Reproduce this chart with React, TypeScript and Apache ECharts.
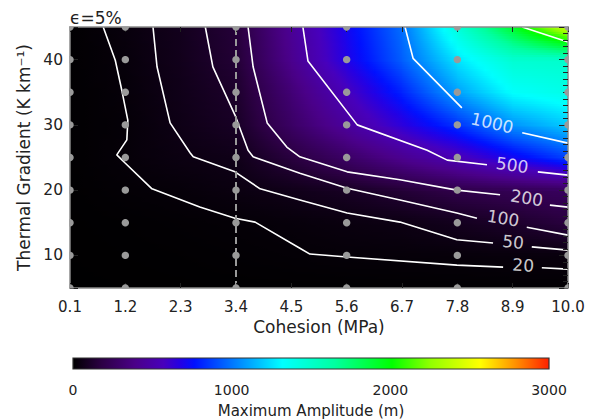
import React, { useEffect, useRef } from "react";
import * as echarts from "echarts";

// grid nodes of the amplitude field
const cohesionNodes = [0.1, 1.2, 2.3, 3.4, 4.5, 5.6, 6.7, 7.8, 8.9, 10.0];
const gradientNodes = [5, 10, 15, 20, 25, 30, 35, 40, 45];
// maximum amplitude (m), one row per gradient node (bottom to top), one column per cohesion node
const amplitude = [
  [1, 2, 3, 4, 4, 4, 5, 6, 7, 8],
  [2, 4, 6, 10, 15, 21, 23, 26, 30, 35],
  [3, 6, 11, 17, 27, 39, 50, 78, 115, 165],
  [4, 14, 24, 42, 65, 95, 145, 200, 230, 260],
  [5, 22, 45, 62, 165, 280, 416, 547, 714, 880],
  [5, 19, 57, 98, 277, 464, 653, 843, 1070, 1200],
  [5, 23, 64, 115, 331, 564, 806, 1100, 1330, 1400],
  [5, 27, 72, 140, 410, 684, 947, 1260, 1480, 1500],
  [5, 33, 76, 150, 437, 714, 985, 1446, 1918, 2450],
];

// sample points (gray dots)
const sampleCohesion = [0.1, 1.2, 3.4, 5.6, 7.8, 10.0];
const sampleGradient = [5, 10, 15, 20, 25, 30, 35, 40, 45];
const referenceCohesion = 3.4;

// contour lines, each a list of segments (split where the label sits)
const contour20 = [
  [[0.76, 45], [1.0, 39.9], [1.13, 35.3], [1.25, 30.7], [1.23, 27.7], [1.03, 25.4], [1.19, 24.2], [1.73, 20.2], [2.68, 17.4], [3.38, 15.7], [3.78, 15.1], [4.67, 11.1], [4.87, 10.2], [5.61, 9.75], [7.79, 8.5], [8.71, 8.2]],
  [[9.48, 8.1], [10.0, 7.9]],
];
const contour50 = [
  [[1.75, 45], [1.83, 38.9], [2.09, 30.3], [2.49, 25.7], [2.55, 25.1], [3.38, 22.8], [3.88, 20.2], [4.67, 18.5], [5.61, 16.5], [6.66, 15.1], [7.79, 12.4], [8.51, 11.9]],
  [[9.28, 11.3], [10.0, 10.8]],
];
const contour100 = [
  [[2.79, 45], [2.94, 38.9], [3.38, 31.5], [3.64, 26.1], [3.74, 25.1], [4.67, 22.6], [5.61, 20.3], [6.66, 18.5], [7.79, 16.5], [8.19, 15.7]],
  [[9.18, 14.3], [10.0, 13.1]],
];
const contour200 = [
  [[3.64, 45], [3.74, 38.9], [4.02, 30.3], [4.41, 26.6], [4.67, 25.1], [5.61, 22.8], [6.66, 21.6], [7.79, 20.0], [8.65, 19.3]],
  [[9.64, 17.7], [10.0, 17.4]],
];
const contour500 = [
  [[4.73, 45], [4.83, 39.8], [5.81, 30], [7.2, 26.1], [7.6, 24.6], [8.39, 23.9]],
  [[9.4, 22.8], [10.0, 22.3]],
];
const contour1000 = [
  [[6.76, 45], [6.92, 40.2], [7.89, 32.6]],
  [[9.09, 28.8], [10.0, 27.2]],
];
const contour2000 = [[[9.09, 45], [10.0, 42.7]]];

const contourLabels = [
  { text: "1000", at: [8.49, 30.3], rotate: -13 },
  { text: "500", at: [8.89, 23.85], rotate: -8 },
  { text: "200", at: [9.18, 18.8], rotate: -9 },
  { text: "100", at: [8.71, 15.7], rotate: -9 },
  { text: "50", at: [8.91, 12.05], rotate: -6 },
  { text: "20", at: [9.11, 8.5], rotate: -3 },
];

const colorbarRange = [0, 3000];
const colorbarTicks = [0, 1000, 2000, 3000];

// colour table (style)
const cmapStops: [number, string][] = [
  [0, "#000000"],
  [0.06, "#2c0044"],
  [0.13, "#4a0088"],
  [0.19, "#4800bc"],
  [0.225, "#2400e4"],
  [0.255, "#0010ff"],
  [0.335, "#0078ff"],
  [0.44, "#00ffff"],
  [0.55, "#00ffa0"],
  [0.67, "#00ff00"],
  [0.75, "#90ff00"],
  [0.855, "#ffff00"],
  [0.93, "#ff9000"],
  [1, "#ff2000"],
];

function hexToRgb(h: string) {
  return [parseInt(h.slice(1, 3), 16), parseInt(h.slice(3, 5), 16), parseInt(h.slice(5, 7), 16)];
}
const cmapRgb = cmapStops.map(([t, c]) => [t, hexToRgb(c)] as [number, number[]]);
function cmap(t: number) {
  t = Math.max(0, Math.min(1, t));
  for (let k = 1; k < cmapRgb.length; k++) {
    const [t1, c1] = cmapRgb[k];
    if (t <= t1) {
      const [t0, c0] = cmapRgb[k - 1];
      const f = (t - t0) / (t1 - t0 || 1);
      const c = c0.map((v, i) => Math.round(v + (c1[i] - v) * f));
      return `rgb(${c[0]},${c[1]},${c[2]})`;
    }
  }
  const c = cmapRgb[cmapRgb.length - 1][1];
  return `rgb(${c[0]},${c[1]},${c[2]})`;
}

const FONT = "DejaVu Sans";
const TEXT = "#222";
const FRAME = "#8a8a8a";
const DOT = "#9a9a9a";
const X_MIN = 0.1, X_MAX = 10.0, Y_MIN = 5, Y_MAX = 45;

export default function App() {
  const ref = useRef<HTMLDivElement>(null);
  useEffect(() => {
    if (!ref.current) return;
    const chart = echarts.init(ref.current, undefined, { renderer: "svg" });
    const maxAmp = colorbarRange[1];

    const cells: number[][] = [];
    for (let j = 0; j < gradientNodes.length - 1; j++)
      for (let i = 0; i < cohesionNodes.length - 1; i++) cells.push([i, j]);

    const contourSeries: any[] = [];
    [contour20, contour50, contour100, contour200, contour500, contour1000, contour2000].forEach((segs) =>
      segs.forEach((seg) =>
        contourSeries.push({
          type: "line",
          xAxisIndex: 0,
          yAxisIndex: 0,
          data: seg,
          symbol: "none",
          silent: true,
          z: 3,
          lineStyle: { color: "#ffffff", width: 1.6 },
        })
      )
    );

    const axisCommon = {
      axisLine: { show: true, onZero: false, lineStyle: { color: FRAME, width: 1.5 } },
      splitLine: { show: false },
      z: 6,
    };

    chart.setOption({
      animation: false,
      backgroundColor: "#ffffff",
      textStyle: { fontFamily: FONT },
      grid: [
        { left: 70, top: 27, width: 498, height: 261 },
        { left: 73, top: 358, width: 476, height: 11 },
      ],
      xAxis: [
        {
          ...axisCommon,
          type: "value",
          gridIndex: 0,
          position: "bottom",
          min: X_MIN,
          max: X_MAX,
          interval: 1.1,
          axisTick: { show: true, inside: true, length: 5, lineStyle: { color: "#222" } },
          axisLabel: {
            color: TEXT,
            fontSize: 15,
            fontFamily: FONT,
            margin: 11,
            formatter: (v: number) => v.toFixed(1),
          },
          name: "Cohesion (MPa)",
          nameLocation: "middle",
          nameGap: 30,
          nameTextStyle: { color: TEXT, fontSize: 17, fontFamily: FONT },
        },
        {
          ...axisCommon,
          type: "value",
          gridIndex: 0,
          position: "top",
          min: X_MIN,
          max: X_MAX,
          interval: 1.1,
          axisTick: { show: true, inside: true, length: 5, lineStyle: { color: "#222" } },
          axisLabel: { show: false },
        },
        {
          type: "value",
          gridIndex: 1,
          min: colorbarRange[0],
          max: colorbarRange[1],
          interval: 1000,
          axisLine: { show: false },
          axisTick: { show: false },
          splitLine: { show: false },
          axisLabel: {
            color: TEXT,
            fontSize: 14,
            fontFamily: FONT,
            margin: 14,
            formatter: (v: number) => (colorbarTicks.includes(v) ? String(v) : ""),
          },
          name: "Maximum Amplitude (m)",
          nameLocation: "middle",
          nameGap: 34,
          nameTextStyle: { color: TEXT, fontSize: 15, fontFamily: FONT },
        },
      ],
      yAxis: [
        {
          ...axisCommon,
          type: "value",
          gridIndex: 0,
          position: "left",
          min: Y_MIN,
          max: Y_MAX,
          splitNumber: 4,
          axisTick: { show: true, inside: true, length: 8, lineStyle: { color: "#222" } },
          axisLabel: {
            color: TEXT,
            fontSize: 15.5,
            fontFamily: FONT,
            margin: 7,
            formatter: (v: number) => (v % 10 === 0 ? String(v) : ""),
          },
          name: "Thermal Gradient (K km⁻¹)",
          nameLocation: "middle",
          nameGap: 33,
          nameRotate: 90,
          nameTextStyle: { color: TEXT, fontSize: 17, fontFamily: FONT },
        },
        {
          ...axisCommon,
          type: "value",
          gridIndex: 0,
          position: "right",
          min: Y_MIN,
          max: Y_MAX,
          splitNumber: 4,
          axisTick: { show: true, inside: true, length: 9, lineStyle: { color: "#222" } },
          minorTick: { show: true, splitNumber: 10, length: 5, lineStyle: { color: "#222" } },
          axisLabel: { show: false },
        },
        {
          type: "value",
          gridIndex: 1,
          min: 0,
          max: 1,
          show: false,
        },
      ],
      series: [
        {
          type: "custom",
          xAxisIndex: 0,
          yAxisIndex: 0,
          clip: true,
          silent: true,
          z: 1,
          data: cells,
          renderItem: (params: any, api: any) => {
            const i = api.value(0);
            const j = api.value(1);
            const x0 = cohesionNodes[i], x1 = cohesionNodes[i + 1];
            const y0 = gradientNodes[j], y1 = gradientNodes[j + 1];
            const v00 = amplitude[j][i], v10 = amplitude[j][i + 1];
            const v01 = amplitude[j + 1][i], v11 = amplitude[j + 1][i + 1];
            const p0 = api.coord([x0, y0]);
            const p1 = api.coord([x1, y1]);
            const left = p0[0], right = p1[0], bottom = p0[1], top = p1[1];
            const strips = 14;
            const h = (bottom - top) / strips;
            const children: any[] = [];
            for (let s = 0; s < strips; s++) {
              const fy = 1 - (s + 0.5) / strips;
              const vL = v00 + (v01 - v00) * fy;
              const vR = v10 + (v11 - v10) * fy;
              const stops: any[] = [];
              const n = 8;
              for (let k = 0; k <= n; k++) {
                const u = k / n;
                stops.push({ offset: u, color: cmap((vL + (vR - vL) * u) / maxAmp) });
              }
              children.push({
                type: "rect",
                shape: { x: left, y: top + s * h, width: right - left + 0.8, height: h + 0.8 },
                style: { fill: new echarts.graphic.LinearGradient(0, 0, 1, 0, stops) },
              });
            }
            return { type: "group", children };
          },
        },
        ...contourSeries,
        {
          type: "line",
          xAxisIndex: 0,
          yAxisIndex: 0,
          data: [
            [referenceCohesion, sampleGradient[0]],
            [referenceCohesion, sampleGradient[sampleGradient.length - 1]],
          ],
          symbol: "none",
          silent: true,
          z: 4,
          lineStyle: { color: "#9a9a9a", width: 2, type: [7, 4] },
        },
        {
          type: "scatter",
          xAxisIndex: 0,
          yAxisIndex: 0,
          symbolSize: 1,
          silent: true,
          z: 7,
          itemStyle: { color: "transparent" },
          data: contourLabels.map((l) => ({
            value: l.at,
            label: {
              show: true,
              position: "inside",
              formatter: l.text,
              rotate: l.rotate,
              color: "#ffffff",
              fontSize: 17,
              fontFamily: FONT,
            },
          })),
        },
        {
          type: "custom",
          xAxisIndex: 2,
          yAxisIndex: 2,
          silent: true,
          data: [colorbarRange],
          renderItem: (params: any, api: any) => {
            const a = api.coord([api.value(0), 0]);
            const b = api.coord([api.value(1), 1]);
            return {
              type: "rect",
              shape: { x: a[0], y: b[1], width: b[0] - a[0], height: a[1] - b[1] },
              style: {
                fill: new echarts.graphic.LinearGradient(
                  0,
                  0,
                  1,
                  0,
                  cmapStops.map(([t, c]) => ({ offset: t, color: c }))
                ),
                stroke: "#333",
                lineWidth: 1.2,
              },
            };
          },
        },
      ],
    });

    // sample dots, placed through the grid's own scales, clipped to the plot frame
    const lo = chart.convertToPixel({ gridIndex: 0 }, [X_MIN, Y_MIN]) as number[];
    const hi = chart.convertToPixel({ gridIndex: 0 }, [X_MAX, Y_MAX]) as number[];
    const r = 3.7;
    const dotEls: any[] = [];
    sampleCohesion.forEach((x) =>
      sampleGradient.forEach((y) => {
        const p = chart.convertToPixel({ gridIndex: 0 }, [x, y]) as number[];
        const pts: number[][] = [];
        const N = 36;
        for (let k = 0; k < N; k++) {
          const a = (k / N) * Math.PI * 2;
          const px = Math.max(lo[0] - 0.6, Math.min(hi[0] + 0.6, p[0] + r * Math.cos(a)));
          const py = Math.max(hi[1] - 0.6, Math.min(lo[1] + 0.6, p[1] + r * Math.sin(a)));
          pts.push([px, py]);
        }
        dotEls.push({
          type: "polygon",
          silent: true,
          z: 10,
          shape: { points: pts },
          style: { fill: DOT },
        });
      })
    );
    chart.setOption({
      graphic: [
        {
          id: "eps",
          type: "text",
          left: 70,
          top: 9,
          z: 20,
          style: { text: "ϵ=5%", fontSize: 17, fontFamily: FONT, fill: TEXT },
        },
        { id: "dots", type: "group", z: 10, children: dotEls },
      ],
    });
    return () => chart.dispose();
  }, []);
  return (
    <div
      ref={ref}
      style={{ position: "fixed", left: 0, top: 0, width: 598, height: 420, background: "#fff" }}
    />
  );
}
